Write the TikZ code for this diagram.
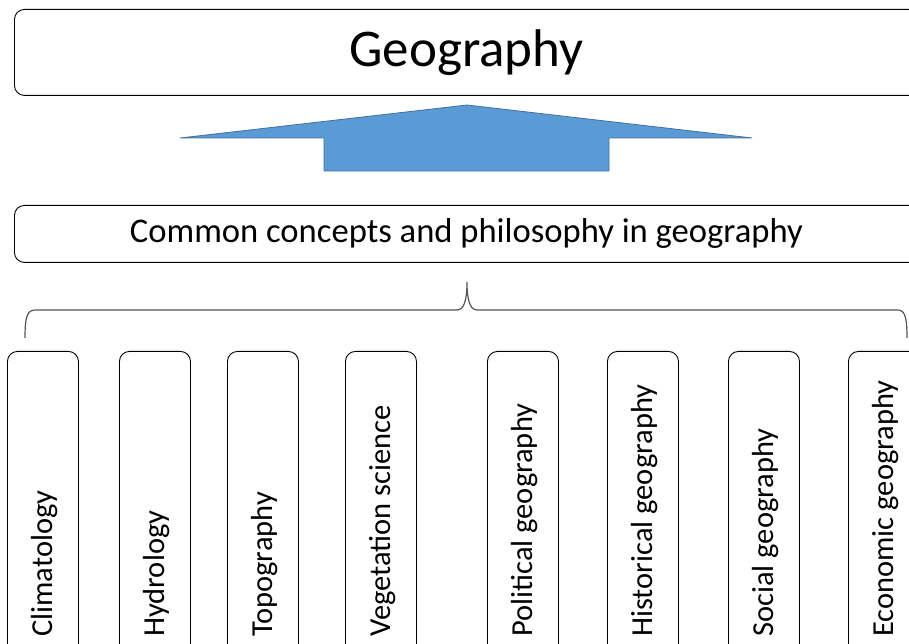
\documentclass[tikz,border=0pt]{standalone}
\usepackage{fontspec}
\setmainfont{Carlito}
\usetikzlibrary{calc}
\definecolor{arrowfill}{HTML}{5B9BD5}
\definecolor{arrowedge}{HTML}{41719C}
\definecolor{bracecol}{HTML}{555555}
\begin{document}
\begin{tikzpicture}[x=1pt,y=1pt,
  box/.style={draw=black, line width=0.9pt, rounded corners=10pt, inner sep=0pt},
  vbox/.style={box, minimum width=71pt, minimum height=313pt, anchor=north west},
  vlabel/.style={rotate=90, anchor=base west, inner sep=0pt, font=\fontsize{30.5}{36}\selectfont},
]
\useasboundingbox (0,0) rectangle (909,644);
\node[box, minimum width=904pt, minimum height=86pt, anchor=north west,
      font=\fontsize{53}{60}\selectfont] (geo) at (14,635) {Geography};
\node[box, minimum width=904pt, minimum height=57pt, anchor=north west,
      font=\fontsize{34.6}{40}\selectfont] (common) at (14,439) {Common concepts and philosophy in geography};
% big arrow
\filldraw[draw=arrowedge, fill=arrowfill, line width=0.8pt]
  (467,539) -- (752,506) -- (609,506) -- (609,473) -- (324,473) -- (324,506) -- (180,506) -- cycle;
% brace
\draw[bracecol, line width=1.2pt]
  (25,306) .. controls (25,330) and (28,334) .. (36,334) -- (457,334)
  .. controls (464,334) and (467,344) .. (467,362)
  .. controls (467,344) and (470,334) .. (477,334) -- (897,334)
  .. controls (904,334) and (907,330) .. (907,306);
% boxes
\foreach \x/\n/\t in {7/clim/Climatology, 119/hydro/Hydrology, 227/topo/Topography,
  345/veg/Vegetation science, 487/pol/Political geography, 607/hist/Historical geography,
  728/soc/Social geography, 848/eco/Economic geography} {
  \node[vbox] (\n) at (\x,293) {};
  \node[vlabel] (\n-t) at ($(\n.south)+(9.5,28)$) {\t};
}
\end{tikzpicture}
\end{document}
